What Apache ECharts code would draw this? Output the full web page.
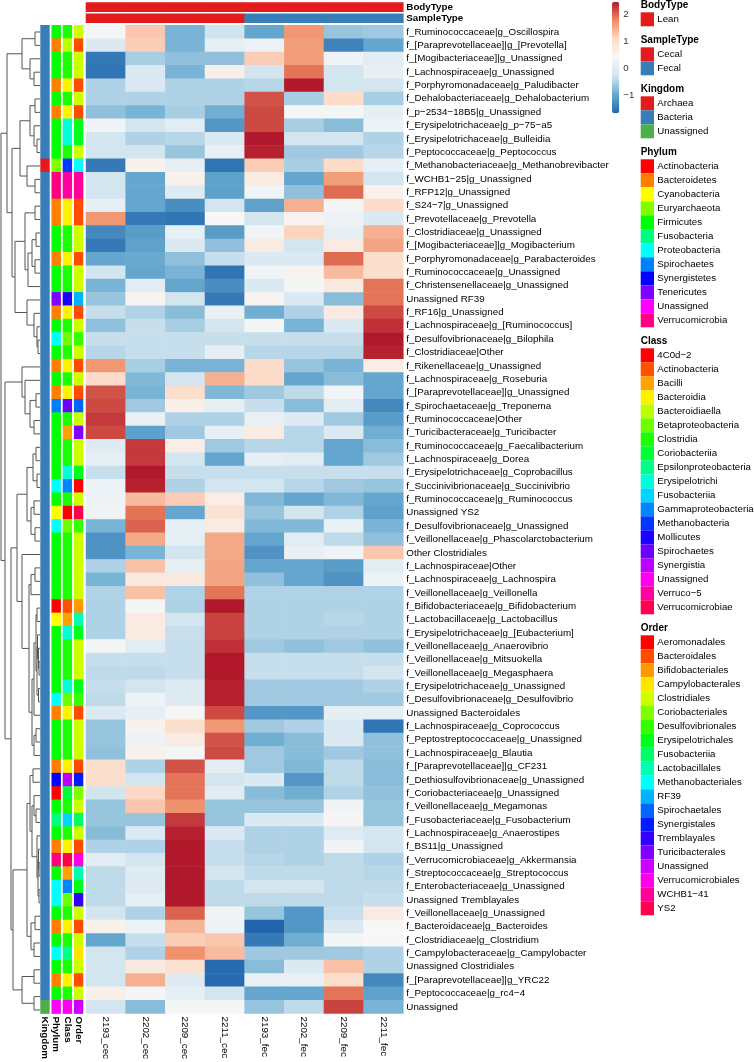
<!DOCTYPE html>
<html><head><meta charset="utf-8">
<script src="https://cdn.jsdelivr.net/npm/echarts@6/dist/echarts.min.js"></script>
<style>html,body{margin:0;padding:0;background:#fff}#c{width:754px;height:1062px}</style>
</head><body><div id="c"></div>
<script>
// ---------------- DATA ----------------
const columns = ['2193_cec','2202_cec','2209_cec','2211_cec','2193_fec','2202_fec','2209_fec','2211_fec'];
const bodyType = ['Lean','Lean','Lean','Lean','Lean','Lean','Lean','Lean'];
const sampleType = ['Cecal','Cecal','Cecal','Cecal','Fecal','Fecal','Fecal','Fecal'];

const rowLabels = [
'f_Ruminococcaceae|g_Oscillospira','f_[Paraprevotellaceae]|g_[Prevotella]','f_[Mogibacteriaceae]|g_Unassigned','f_Lachnospiraceae|g_Unassigned',
'f_Porphyromonadaceae|g_Paludibacter','f_Dehalobacteriaceae|g_Dehalobacterium','f_p\u22122534\u221218B5|g_Unassigned','f_Erysipelotrichaceae|g_p\u221275\u2212a5',
'f_Erysipelotrichaceae|g_Bulleidia','f_Peptococcaceae|g_Peptococcus','f_Methanobacteriaceae|g_Methanobrevibacter','f_WCHB1\u221225|g_Unassigned',
'f_RFP12|g_Unassigned','f_S24\u22127|g_Unassigned','f_Prevotellaceae|g_Prevotella','f_Clostridiaceae|g_Unassigned',
'f_[Mogibacteriaceae]|g_Mogibacterium','f_Porphyromonadaceae|g_Parabacteroides','f_Ruminococcaceae|g_Unassigned','f_Christensenellaceae|g_Unassigned',
'Unassigned RF39','f_RF16|g_Unassigned','f_Lachnospiraceae|g_[Ruminococcus]','f_Desulfovibrionaceae|g_Bilophila',
'f_Clostridiaceae|Other','f_Rikenellaceae|g_Unassigned','f_Lachnospiraceae|g_Roseburia','f_[Paraprevotellaceae]|g_Unassigned',
'f_Spirochaetaceae|g_Treponema','f_Ruminococcaceae|Other','f_Turicibacteraceae|g_Turicibacter','f_Ruminococcaceae|g_Faecalibacterium',
'f_Lachnospiraceae|g_Dorea','f_Erysipelotrichaceae|g_Coprobacillus','f_Succinivibrionaceae|g_Succinivibrio','f_Ruminococcaceae|g_Ruminococcus',
'Unassigned YS2','f_Desulfovibrionaceae|g_Unassigned','f_Veillonellaceae|g_Phascolarctobacterium','Other Clostridiales',
'f_Lachnospiraceae|Other','f_Lachnospiraceae|g_Lachnospira','f_Veillonellaceae|g_Veillonella','f_Bifidobacteriaceae|g_Bifidobacterium',
'f_Lactobacillaceae|g_Lactobacillus','f_Erysipelotrichaceae|g_[Eubacterium]','f_Veillonellaceae|g_Anaerovibrio','f_Veillonellaceae|g_Mitsuokella',
'f_Veillonellaceae|g_Megasphaera','f_Erysipelotrichaceae|g_Unassigned','f_Desulfovibrionaceae|g_Desulfovibrio','Unassigned Bacteroidales',
'f_Lachnospiraceae|g_Coprococcus','f_Peptostreptococcaceae|g_Unassigned','f_Lachnospiraceae|g_Blautia','f_[Paraprevotellaceae]|g_CF231',
'f_Dethiosulfovibrionaceae|g_Unassigned','f_Coriobacteriaceae|g_Unassigned','f_Veillonellaceae|g_Megamonas','f_Fusobacteriaceae|g_Fusobacterium',
'f_Lachnospiraceae|g_Anaerostipes','f_BS11|g_Unassigned','f_Verrucomicrobiaceae|g_Akkermansia','f_Streptococcaceae|g_Streptococcus',
'f_Enterobacteriaceae|g_Unassigned','Unassigned Tremblayales','f_Veillonellaceae|g_Unassigned','f_Bacteroidaceae|g_Bacteroides',
'f_Clostridiaceae|g_Clostridium','f_Campylobacteraceae|g_Campylobacter','Unassigned Clostridiales','f_[Paraprevotellaceae]|g_YRC22',
'f_Peptococcaceae|g_rc4\u22124','Unassigned'];

// row z-scores (one row per taxon, columns as above)
const values = [
[0.35,1.25,-0.85,-0.3,-1.0,1.65,-0.65,-0.6],
[-0.1,1.2,-0.85,0.1,0.2,1.6,-1.35,-1.0],
[-1.45,-0.55,-0.7,-0.7,1.2,1.6,0.25,0.0],
[-1.5,-0.1,-0.85,0.6,-0.25,1.9,-0.25,0.15],
[-0.5,-0.1,-0.5,-0.5,-0.45,2.45,-0.25,-0.25],
[-0.5,-0.5,-0.5,-0.5,2.1,-0.55,1.05,-0.55],
[-0.7,-0.85,-0.55,-0.9,2.15,0.35,0.35,0.1],
[0.3,-0.25,0.0,-1.15,2.15,-0.55,-0.75,0.2],
[-0.25,-0.5,-0.45,-0.1,2.45,-0.25,-0.25,-0.5],
[-0.25,-0.25,-0.65,0.15,2.4,-0.6,-0.6,-0.45],
[-1.45,0.55,0.1,-1.5,1.2,-0.55,1.05,0.1],
[-0.25,-1.0,0.55,-1.05,0.7,-1.0,1.6,-0.25],
[-0.25,-1.0,-0.05,-1.05,0.3,-0.7,1.95,0.55],
[0.1,-1.0,-1.25,-0.25,-1.05,1.45,0.35,1.05],
[1.65,-1.45,-1.5,0.4,-0.25,0.5,0.2,-0.1],
[-1.3,-1.1,0.1,-1.1,0.3,1.15,0.1,1.45],
[-1.45,-1.05,-0.1,-0.7,0.7,-0.25,0.7,1.55],
[-1.0,-0.95,-0.7,-0.35,-0.1,-0.1,1.95,1.0],
[-0.25,-1.0,-0.85,-1.5,0.3,0.5,1.35,1.0],
[-0.85,0.0,-1.0,-1.25,-0.1,0.35,0.75,1.9],
[-0.65,0.5,-0.25,-1.45,0.5,-0.1,-0.75,1.9],
[-0.35,-0.5,-0.75,0.15,-0.9,-0.5,0.7,2.15],
[-0.7,-0.35,-0.55,-0.25,0.35,-0.85,-0.1,2.3],
[-0.35,-0.35,-0.35,-0.35,-0.35,-0.35,-0.35,2.45],
[-0.45,-0.35,-0.35,0.1,-0.45,-0.45,-0.45,2.4],
[1.65,-0.55,-0.85,-0.85,1.05,-0.65,-0.85,0.65],
[1.05,-0.8,-0.25,1.45,1.05,-1.0,-0.75,-1.0],
[2.1,-0.85,1.0,-0.8,-0.6,-0.4,0.3,-1.0],
[2.15,-0.6,0.6,0.1,-0.35,-0.75,0.0,-1.3],
[2.25,0.15,-0.5,-0.5,0.15,-0.05,-0.6,-1.1],
[2.15,-1.05,-0.6,0.1,0.7,-0.45,-0.1,-0.9],
[-0.05,2.25,0.65,-0.6,-0.45,-0.45,-1.0,-0.75],
[0.1,2.25,-0.25,-1.0,0.1,0.0,-1.0,-0.6],
[-0.35,2.45,-0.35,-0.35,-0.35,-0.35,-0.35,-0.35],
[0.2,2.4,-0.5,-0.25,-0.25,-0.45,-0.6,-0.65],
[0.2,1.35,1.2,0.65,-0.8,-1.0,-0.8,-1.0],
[0.3,1.9,-1.0,0.9,-0.65,-0.25,-0.5,-1.05],
[-0.85,2.0,0.1,0.7,-0.8,-0.8,0.15,-0.85],
[-1.2,1.5,0.1,1.5,-1.0,0.0,-0.4,-0.7],
[-1.2,-0.85,-0.25,1.5,-1.2,0.15,0.25,1.25],
[-0.5,1.3,0.1,1.55,-1.0,-1.0,-1.1,0.0],
[-0.85,0.75,0.75,1.55,-0.7,-1.0,-1.2,0.2],
[-0.5,1.3,-0.5,1.9,-0.5,-0.5,-0.5,-0.5],
[-0.5,0.35,-0.5,2.45,-0.5,-0.5,-0.5,-0.5],
[-0.5,0.7,-0.25,2.2,-0.5,-0.5,-0.45,-0.5],
[-0.5,0.7,-0.35,2.2,-0.5,-0.5,-0.5,-0.5],
[0.35,0.0,-0.35,2.3,-0.6,-0.7,-0.6,-0.7],
[-0.35,-0.35,-0.35,2.45,-0.35,-0.35,-0.35,-0.35],
[-0.4,-0.4,-0.35,2.45,-0.35,-0.35,-0.35,-0.25],
[-0.35,-0.25,-0.05,2.4,-0.6,-0.6,-0.6,-0.5],
[-0.4,0.2,-0.05,2.4,-0.6,-0.6,-0.6,-0.6],
[-0.1,0.1,0.45,2.15,-1.15,-1.15,0.05,0.05],
[-0.65,0.55,1.0,1.65,-0.6,-0.5,-0.1,-1.5],
[-0.65,0.2,0.7,2.1,-0.9,-0.75,-0.1,-0.7],
[-0.7,0.55,0.35,2.15,-0.6,-0.75,-0.6,-0.7],
[1.0,-0.5,2.1,0.0,-0.6,-0.8,-0.4,-0.75],
[1.0,-0.25,1.9,-0.25,-0.1,-1.15,-0.4,-0.75],
[-0.25,1.1,1.9,0.0,-0.75,-0.9,-0.5,-0.7],
[-0.65,1.25,1.7,-0.65,-0.65,-0.65,0.3,-0.65],
[-0.65,-0.65,2.25,-0.65,-0.1,-0.1,0.45,-0.65],
[-0.75,-0.1,2.4,-0.1,-0.5,-0.5,-0.05,-0.2],
[-0.5,-0.5,2.45,-0.35,-0.5,-0.5,0.3,-0.25],
[0.0,-0.25,2.45,-0.35,-0.45,-0.5,-0.4,-0.5],
[-0.4,-0.05,2.45,-0.25,-0.4,-0.4,-0.4,-0.45],
[-0.4,-0.05,2.45,-0.4,-0.25,-0.25,-0.4,-0.4],
[-0.4,0.1,2.45,-0.4,-0.4,-0.4,-0.4,-0.35],
[-0.25,-0.5,2.0,0.3,-0.65,-1.15,-0.35,0.7],
[0.55,0.2,1.4,0.2,-1.65,-1.15,-0.1,0.4],
[-1.0,-0.35,1.2,1.25,-1.45,-0.9,0.35,0.4],
[-0.25,-0.5,1.7,1.35,-0.6,-0.6,-0.6,-0.5],
[-0.25,0.75,0.95,-1.6,-0.75,-0.1,1.3,-0.5],
[-0.25,1.45,-0.05,-1.6,0.15,0.15,1.0,-1.3],
[0.6,0.35,0.1,-0.25,-1.0,-1.0,1.9,-1.05],
[-0.25,-0.75,0.35,0.35,-0.65,-0.4,2.2,-0.85]
];

// annotation categories
const bodyTypeNames = ['Lean'];
const sampleTypeNames = ['Cecal','Fecal'];
const kingdomNames = ['Archaea','Bacteria','Unassigned'];
const phylumNames = ['Actinobacteria','Bacteroidetes','Cyanobacteria','Euryarchaeota','Firmicutes','Fusobacteria','Proteobacteria','Spirochaetes','Synergistetes','Tenericutes','Unassigned','Verrucomicrobia'];
const classNames = ['4C0d\u22122','Actinobacteria','Bacilli','Bacteroidia','Bacteroidiaella','Betaproteobacteria','Clostridia','Coriobacteriia','Epsilonproteobacteria','Erysipelotrichi','Fusobacteriia','Gammaproteobacteria','Methanobacteria','Mollicutes','Spirochaetes','Synergistia','Unassigned','Verruco\u22125','Verrucomicrobiae'];
const orderNames = ['Aeromonadales','Bacteroidales','Bifidobacteriales','Campylobacterales','Clostridiales','Coriobacteriales','Desulfovibrionales','Erysipelotrichales','Fusobacteriia','Lactobacillales','Methanobacteriales','RF39','Spirochaetales','Synergistales','Tremblayales','Turicibacterales','Unassigned','Verrucomicrobiales','WCHB1\u221241','YS2'];

// per-row annotation (indices into the lists above)
const rowKingdom = [1,1,1,1,1,1,1,1,1,1,0,1,1,1,1,1,1,1,1,1,1,1,1,1,1,1,1,1,1,1,1,1,1,1,1,1,1,1,1,1,1,1,1,1,1,1,1,1,1,1,1,1,1,1,1,1,1,1,1,1,1,1,1,1,1,1,1,1,1,1,1,1,1,2];
const rowPhylum  = [4,1,4,4,1,4,1,4,4,4,3,11,11,1,1,4,4,1,4,4,9,1,4,6,4,1,4,1,7,4,4,4,4,4,6,4,2,6,4,4,4,4,4,0,2,4,4,4,4,4,6,1,4,4,4,1,8,0,4,5,4,1,11,4,6,6,4,1,4,6,4,1,4,10];
const rowClass   = [6,4,6,6,3,6,3,9,9,6,12,17,17,3,3,6,6,3,6,6,13,3,6,5,6,3,6,3,14,6,2,6,6,9,11,6,0,5,6,6,6,6,6,1,2,9,6,6,6,9,5,3,6,6,6,3,15,7,6,10,6,3,18,2,11,5,6,3,6,8,6,3,6,16];
const rowOrder   = [4,1,4,4,1,4,1,7,7,4,10,18,18,1,1,4,4,1,4,4,11,1,4,6,4,1,4,1,12,4,15,4,4,7,0,4,19,6,4,4,4,4,4,2,9,7,4,4,4,7,6,1,4,4,4,1,13,5,4,8,4,1,17,9,7,14,4,1,4,3,4,1,4,16];

// row dendrogram: [left, right, height]; leaves are row indices
const dendrogram = [
  [ [[0,1,5],[2,[3,4,6],10],18],
    [ [[[5,6,5],[7,[8,9,3],6],10],[10,[11,12,5],13],20],
      [[[13,14,5],[[[15,16,4],[17,18,5],8],19,12],15],[20,[21,[22,[23,24,2],3],6],13],25],
      28],
    33],
  [ [25,[26,[[27,28,4],[29,30,6],10],15],18],
    [ [ [[[31,32,4],[33,34,3],7],[[35,36,6],[37,38,5],9],13],
        [39,[[[40,41,5],42,9],[[[[43,44,3],[[45,[46,[47,48,1],1.5],2.5],[49,50,1.5],3],4],51,6],[[52,53,4],54,6],8],11],18],
        23],
      [ [[[55,56,7],[[57,[58,59,4],6],[60,[[61,[62,63,1],1.5],[64,65,1],2],3],8],10],[[66,67,5],[68,69,6],9],13],
        [[70,71,6],[72,73,6],18],
        27],
      29],
    35],
  39];

// colour scale
const colorMin = -1.65, colorMax = 2.45;
const colorbarTicks = [-1, 0, 1, 2];

// ---------------- STYLE / BUILD ----------------
const FONT = "'Liberation Sans', Arial, Helvetica, sans-serif";
const heatColors = ['#2166AC','#67A9CF','#D1E5F0','#F7F7F7','#FDDBC7','#EF8A62','#B2182B'];
function hsvHex(h){
  const f = n => { const k = (n + h/60) % 6; return 1 - Math.max(0, Math.min(k, 4-k, 1)); };
  const to = v => Math.round(v*255).toString(16).padStart(2,'0');
  return '#' + to(f(5)) + to(f(3)) + to(f(1));
}
function rainbow(n){ const a=[]; for(let i=0;i<n;i++) a.push(hsvHex(360*i/n)); return a; }
const bodyTypeColors = ['#E41A1C'];
const sampleTypeColors = ['#E41A1C','#377EB8'];
const kingdomColors = ['#E41A1C','#377EB8','#4DAF4A'];
const phylumColors = rainbow(phylumNames.length);
const classColors = rainbow(classNames.length);
const orderColors = rainbow(orderNames.length);

const nRows = rowLabels.length;
const heatData = [];
values.forEach((row, r) => row.forEach((v, c) => heatData.push([c, r, v])));

// top annotation
const topData = [], topCol = [];
columns.forEach((_, c) => {
  topData.push([c, 0]); topCol.push(bodyTypeColors[bodyTypeNames.indexOf(bodyType[c])]);
  topData.push([c, 1]); topCol.push(sampleTypeColors[sampleTypeNames.indexOf(sampleType[c])]);
});
// left annotation
const leftData = [], leftCol = [];
for (let r = 0; r < nRows; r++) {
  [[kingdomColors, rowKingdom], [phylumColors, rowPhylum], [classColors, rowClass], [orderColors, rowOrder]].forEach((p, c) => {
    leftData.push([c, r]); leftCol.push(p[0][p[1][r]]);
  });
}
// dendrogram segments
const segs = [];
function walk(node){
  if (typeof node === 'number') return {y: node, h: 0};
  const a = walk(node[0]), b = walk(node[1]), h = node[2];
  segs.push([h, a.y, b.y, a.h, b.h]);
  return {y: (a.y + b.y) / 2, h: h};
}
walk(dendrogram);

const G = {top: 25.3, height: 991.4};
const minus = v => (v < 0 ? '\u2212' + Math.abs(v) : String(v));

// legends
const graphics = [];
const blocks = [
  ['BodyType', bodyTypeNames, bodyTypeColors],
  ['SampleType', sampleTypeNames, sampleTypeColors],
  ['Kingdom', kingdomNames, kingdomColors],
  ['Phylum', phylumNames, phylumColors],
  ['Class', classNames, classColors],
  ['Order', orderNames, orderColors]
];
let ly = 5.3; const LX = 640.7, SW = 13.3, SH = 14, TX = 657.3;
blocks.forEach(b => {
  graphics.push({type:'text', x: LX, y: ly, silent:true, style:{text:b[0], fill:'#000', font:'bold 10px ' + FONT, verticalAlign:'middle', textVerticalAlign:'middle'}});
  const y0 = ly + 7;
  b[1].forEach((nm, i) => {
    graphics.push({type:'rect', silent:true, shape:{x:LX, y:y0 + i*SH, width:SW, height:SH}, style:{fill:b[2][i], stroke:null}});
    graphics.push({type:'text', x: TX, y: y0 + i*SH + SH/2, silent:true, style:{text:nm, fill:'#000', font:'9.7px ' + FONT, verticalAlign:'middle', textVerticalAlign:'middle'}});
  });
  ly = y0 + b[1].length * SH + 14;
});

const hidden = {show:false};
const option = {
  animation: false,
  backgroundColor: '#fff',
  grid: [
    {left: 86, top: G.top, width: 317.3, height: G.height},
    {left: 86, top: 1.5, width: 317.3, height: 22.4},
    {left: 39.4, top: G.top, width: 44.8, height: G.height},
    {left: 0, top: G.top, width: 40, height: G.height},
    {left: 612, top: 1.7, width: 7.3, height: 111.6}
  ],
  xAxis: [
    {type:'category', gridIndex:0, data: columns, position:'bottom', axisLine:hidden, axisTick:hidden, splitLine:hidden,
     axisLabel:{rotate:-90, interval:0, fontSize:9.8, color:'#000', margin:3, fontFamily:FONT}},
    {type:'category', gridIndex:1, data: columns, show:false},
    {type:'category', gridIndex:2, data:['Kingdom','Phylum','Class','Order'], position:'bottom', axisLine:hidden, axisTick:hidden, splitLine:hidden,
     axisLabel:{rotate:-90, interval:0, fontSize:9.8, fontWeight:'bold', color:'#000', margin:3, fontFamily:FONT}},
    {type:'value', gridIndex:3, min:0, max:40, inverse:true, show:false},
    {type:'value', gridIndex:4, min:0, max:1, show:false}
  ],
  yAxis: [
    {type:'category', gridIndex:0, data: rowLabels, inverse:true, position:'right', axisLine:hidden, axisTick:hidden, splitLine:hidden,
     axisLabel:{interval:0, fontSize:9.8, color:'#000', margin:3, fontFamily:FONT}},
    {type:'category', gridIndex:1, data:['BodyType','SampleType'], inverse:true, position:'right', axisLine:hidden, axisTick:hidden, splitLine:hidden,
     axisLabel:{interval:0, fontSize:9.8, fontWeight:'bold', color:'#000', margin:3, fontFamily:FONT}},
    {type:'category', gridIndex:2, data: rowLabels, inverse:true, show:false},
    {type:'value', gridIndex:3, min:-0.5, max:nRows - 0.5, inverse:true, show:false},
    {type:'value', gridIndex:4, min:colorMin, max:colorMax, position:'right', axisLine:hidden, axisTick:hidden, splitLine:hidden,
     axisLabel:{customValues: colorbarTicks, formatter: v => minus(v), fontSize:9.7, color:'#333', margin:4, fontFamily:FONT}}
  ],
  visualMap: {
    type:'continuous', seriesIndex:0, min:colorMin, max:colorMax, calculable:false, hoverLink:false,
    inRange:{color: heatColors}, left:612, top:1.7, itemWidth:7.3, itemHeight:111.6, padding:0, text:null, orient:'vertical'
  },
  series: [
    {type:'heatmap', xAxisIndex:0, yAxisIndex:0, data: heatData, silent:true, itemStyle:{borderWidth:0}, progressive:0},
    {type:'custom', xAxisIndex:1, yAxisIndex:1, data: topData, silent:true, clip:false,
     renderItem:(params, api) => {
       const p = api.coord([api.value(0), api.value(1)]); const s = api.size([1,1]);
       return {type:'rect', shape:{x:p[0]-s[0]/2 - 0.3, y:p[1]-s[1]/2 + 0.8, width:s[0] + 0.6, height:s[1]-1.6}, style:{fill: topCol[params.dataIndex]}};
     }},
    {type:'custom', xAxisIndex:2, yAxisIndex:2, data: leftData, silent:true, clip:false,
     renderItem:(params, api) => {
       const p = api.coord([api.value(0), api.value(1)]); const s = api.size([1,1]);
       return {type:'rect', shape:{x:p[0]-s[0]/2 + 0.9, y:p[1]-s[1]/2 - 0.3, width:s[0]-1.8, height:s[1] + 0.6}, style:{fill: leftCol[params.dataIndex]}};
     }},
    {type:'custom', xAxisIndex:3, yAxisIndex:3, data: segs, silent:true, clip:false, encode:{x:[0,3,4], y:[1,2]},
     renderItem:(params, api) => {
       const h = api.value(0), ya = api.value(1), yb = api.value(2), ha = api.value(3), hb = api.value(4);
       const pts = [api.coord([ha, ya]), api.coord([h, ya]), api.coord([h, yb]), api.coord([hb, yb])];
       return {type:'polyline', shape:{points: pts}, style:{stroke:'#555', lineWidth:1, fill:null}};
     }}
  ],
  graphic: graphics
};
const chart = echarts.init(document.getElementById('c'), null, {renderer:'canvas'});
chart.setOption(option);
</script>
</body></html>
